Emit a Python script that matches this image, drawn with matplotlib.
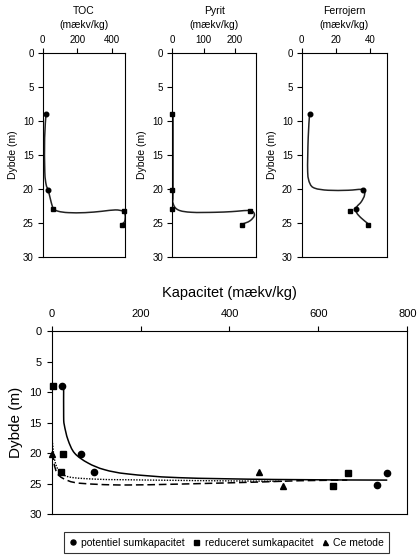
import numpy as np
import matplotlib
matplotlib.use("Agg")
import matplotlib.pyplot as plt
from matplotlib.path import Path
from matplotlib.patches import PathPatch

plt.rcParams['font.family'] = ['Liberation Sans', 'DejaVu Sans']

# dybder (m)
depth = [9.0, 20.2, 23.0, 23.3, 25.25]

# top panels (mækv/kg)
toc = [19, 32, 61, 465, 455]
pyrit = [0, 0, 0, 249, 224]
ferro = [4.6, 35.7, 31.6, 28.0, 38.6]

toc_mk = ['o', 'o', 's', 's', 's']
pyrit_mk = ['s', 's', 's', 's', 's']
ferro_mk = ['o', 'o', 'o', 's', 's']

# de udglattede linjer
toc_line_x = [19, 11, 12, 20, 32, 48, 62, 90, 147, 244, 340, 417, 462, 474, 471, 455]
toc_line_d = [9.0, 12.5, 17.5, 19.4, 20.2, 21.9, 22.9, 23.3, 23.5, 23.5, 23.3, 23.1, 23.3, 23.9, 24.8, 25.2]
pyrit_line_x = [2.5, 2.5, 2.5, 19, 62, 137, 190, 249, 263, 249, 224]
pyrit_line_d = [9.0, 20.2, 22.1, 23.1, 23.45, 23.45, 23.35, 23.2, 23.85, 24.7, 25.2]
ferro_line_x = [4.6, 3.8, 3.5, 4.8, 7.7, 15.5, 27.1, 35.7, 36.7, 34.8, 32.3, 32.0, 32.3, 34.8, 38.6]
ferro_line_d = [9.0, 12.5, 17.5, 19.2, 19.9, 20.2, 20.2, 20.1, 20.9, 21.9, 22.6, 23.1, 23.6, 24.3, 25.1]

# bottom panel
pot_x = [22.5, 66, 94.5, 754, 731]
pot_d = [9.0, 20.1, 23.0, 23.2, 25.2]
red_x = [2, 25, 21, 667, 634]
red_d = [9.0, 20.1, 23.1, 23.2, 25.3]
ce_x = [0, 466, 521]
ce_d = [20.1, 23.1, 25.3]

# tendenslinjer
pot_trend_x = [27, 27, 28.5, 36.7, 51.7, 81.7, 119, 172, 285, 500, 755]
pot_trend_d = [9.0, 14.0, 15.4, 17.8, 20.0, 21.6, 22.7, 23.4, 24.0, 24.3, 24.4]
red_trend_x = [0, 5, 12, 25, 52, 104, 172, 290, 475, 560, 665]
red_trend_d = [18.0, 21.5, 23.2, 24.1, 24.8, 25.1, 25.2, 25.05, 24.7, 24.5, 24.4]
ce_trend_x = [0, 3, 8, 18, 40, 100, 172, 350, 521]
ce_trend_d = [16.5, 19.2, 21.5, 23.0, 23.9, 24.25, 24.35, 24.5, 24.6]


def smooth(x, y):
    # bezier-udglatning gennem punkterne
    p = np.column_stack([x, y]).astype(float)
    n = len(p)
    verts = [p[0]]
    codes = [Path.MOVETO]
    for i in range(n - 1):
        p0 = p[max(i - 1, 0)]
        p1 = p[i]
        p2 = p[i + 1]
        p3 = p[min(i + 2, n - 1)]
        verts += [p1 + (p2 - p0) / 6., p2 - (p3 - p1) / 6., p2]
        codes += [Path.CURVE4] * 3
    return Path(verts, codes)


def style_axes(ax, tsize, pad_x, pad_y):
    ax.xaxis.tick_top()
    ax.tick_params(axis='x', top=True, bottom=False, direction='out', length=3.5,
                   width=0.8, labelsize=tsize, pad=pad_x)
    ax.tick_params(axis='y', left=True, right=False, direction='out', length=3.5,
                   width=0.8, labelsize=tsize, pad=pad_y)
    for s in ax.spines.values():
        s.set_linewidth(0.8)
        s.set_color('black')


fig = plt.figure(figsize=(4.2, 5.6), dpi=100)

panels = [
    ("TOC", toc, toc_mk, toc_line_x, toc_line_d, 476, [0, 200, 400], 0.1017, 0.1971),
    ("Pyrit", pyrit, pyrit_mk, pyrit_line_x, pyrit_line_d, 268, [0, 100, 200], 0.4102, 0.1993),
    ("Ferrojern", ferro, ferro_mk, ferro_line_x, ferro_line_d, 50, [0, 20, 40], 0.7183, 0.2038),
]

for name, vals, mks, lx, ld, xmax, xt, left, width in panels:
    ax = fig.add_axes([left, 0.5416, width, 0.3632])
    ax.set_xlim(0, xmax)
    ax.set_ylim(30, 0)
    ax.set_xticks(xt)
    ax.set_yticks(range(0, 31, 5))
    style_axes(ax, 7, 2.3, 3.0)
    ax.add_patch(PathPatch(smooth(lx, ld), fill=False, lw=1.1, color='#222222'))
    for v, d, m in zip(vals, depth, mks):
        ax.plot(v, d, marker=m, ms=3.3, color='black', ls='none', clip_on=False)
    ax.text(0.5, 1.208, name, transform=ax.transAxes, ha='center', va='center', fontsize=7.5)
    ax.text(0.5, 1.139, "(mækv/kg)", transform=ax.transAxes, ha='center', va='center', fontsize=7.5)
    ax.set_ylabel("Dybde (m)", fontsize=7.5)
    ax.yaxis.set_label_coords(-25.0 / (width * 420), 0.5)

# samlet kapacitet
ax = fig.add_axes([0.123, 0.0816, 0.8467, 0.3273])
ax.set_xlim(0, 800)
ax.set_ylim(30, 0)
ax.set_xticks([0, 200, 400, 600, 800])
ax.set_yticks(range(0, 31, 5))
style_axes(ax, 8, 5.0, 3.5)
ax.xaxis.set_label_position('top')
ax.set_xlabel("Kapacitet (mækv/kg)", fontsize=10.5, labelpad=9)
ax.set_ylabel("Dybde (m)", fontsize=11)
ax.yaxis.set_label_coords(-29.0 / 355.6, 0.5)

ax.add_patch(PathPatch(smooth(pot_trend_x, pot_trend_d), fill=False, lw=1.1, color='black'))
ax.add_patch(PathPatch(smooth(red_trend_x, red_trend_d), fill=False, lw=1.1, color='black',
                       ls=(0, (5, 2.5))))
ax.add_patch(PathPatch(smooth(ce_trend_x, ce_trend_d), fill=False, lw=1.0, color='black',
                       ls=(0, (1, 1))))

h1, = ax.plot(pot_x, pot_d, 'o', ms=4.5, color='black', clip_on=False)
h2, = ax.plot(red_x, red_d, 's', ms=4.5, color='black', clip_on=False)
h3, = ax.plot(ce_x, ce_d, '^', ms=4.5, color='black', clip_on=False)

leg = fig.legend([h1, h2, h3], ["potentiel sumkapacitet", "reduceret sumkapacitet", "Ce metode"],
                 loc='center', bbox_to_anchor=(226.3 / 420, 0.0309), bbox_transform=fig.transFigure,
                 ncol=3, fontsize=7.5, frameon=True, fancybox=False, handlelength=0.8,
                 handletextpad=0.4, columnspacing=0.7, borderpad=0.5, markerscale=0.8)
leg.get_frame().set_edgecolor('black')
leg.get_frame().set_linewidth(0.8)

fig.savefig("out.png", dpi=100)
